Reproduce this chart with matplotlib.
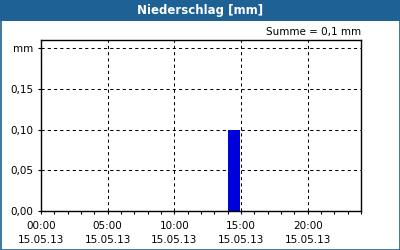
import matplotlib.pyplot as plt
from matplotlib.patches import Rectangle
from matplotlib.ticker import MultipleLocator

# Stundenwerte Niederschlag am 15.05.13
stunden = list(range(24))
niederschlag = [0, 0, 0, 0, 0, 0, 0, 0, 0, 0, 0, 0, 0, 0, 0.1, 0, 0, 0, 0, 0, 0, 0, 0, 0]
x_ticks = [0, 5, 10, 15, 20]
x_labels = ["00:00\n15.05.13", "05:00\n15.05.13", "10:00\n15.05.13", "15:00\n15.05.13", "20:00\n15.05.13"]
y_ticks = [0.0, 0.05, 0.10, 0.15, 0.20]
y_labels = ["0,00", "0,05", "0,10", "0,15", "mm"]
titel = "Niederschlag [mm]"
summe = "Summe = 0,1 mm"

blau = "#1d6195"

fig = plt.figure(figsize=(4, 2.5), dpi=100)
fig.patch.set_facecolor("white")

# Titelleiste und Rahmen
fig.patches.append(Rectangle((0, 1 - 21 / 250), 1, 21 / 250, transform=fig.transFigure,
                             facecolor=blau, edgecolor="none", zorder=0))
fig.patches.append(Rectangle((0.5 / 400, 0.5 / 250), 1 - 1 / 400, 1 - 1 / 250, transform=fig.transFigure,
                             facecolor="none", edgecolor=blau, linewidth=1.2, zorder=1))
fig.text(0.5, 1 - 10.5 / 250, titel, color="white", fontsize=8.5, fontweight="bold",
         ha="center", va="center")

ax = fig.add_axes([41 / 400, 39 / 250, 320 / 400, 171 / 250])
ax.bar([h + 0.05 for h in stunden], niederschlag, width=0.85, align="edge",
       color="#0000dd", zorder=3)

ax.set_xlim(0, 24)
ax.set_ylim(0, 0.21)
ax.set_xticks(x_ticks)
ax.set_xticklabels(x_labels, fontsize=7.5, linespacing=1.5)
ax.xaxis.set_minor_locator(MultipleLocator(1))
ax.set_yticks(y_ticks)
ax.set_yticklabels(y_labels, fontsize=7.5)
ax.tick_params(axis="both", which="both", length=2.5, width=0.8, direction="out", pad=3)
ax.tick_params(axis="x", which="major", pad=5)

ax.grid(True, which="major", color="black", linestyle=(0, (3, 3)), linewidth=0.75, zorder=1)
ax.set_axisbelow(True)
for s in ax.spines.values():
    s.set_linewidth(1)
    s.set_color("black")
    s.set_zorder(4)

fig.text(361 / 400, 1 - 32 / 250, summe, fontsize=7.5, ha="right", va="center")

fig.savefig("out.png", dpi=100)
